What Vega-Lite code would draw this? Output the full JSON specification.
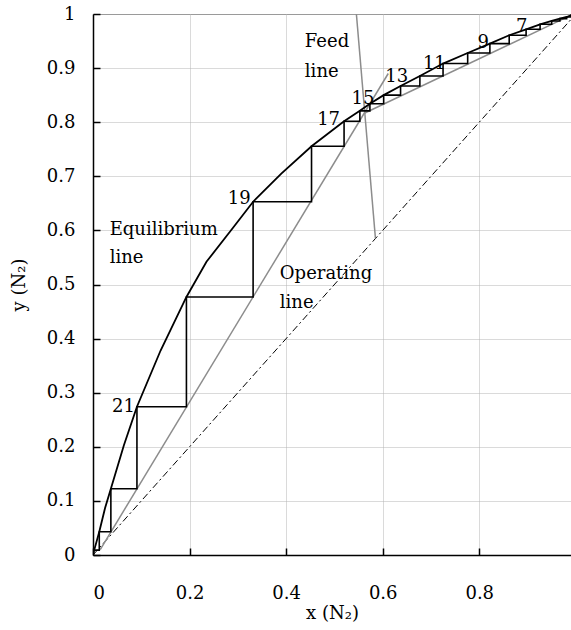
{
  "$schema": "https://vega.github.io/schema/vega-lite/v6.json",
  "width": 478,
  "height": 541,
  "autosize": {"type": "none"},
  "padding": {"left": 93, "top": 14, "right": 0, "bottom": 75},
  "background": "white",
  "config": {
    "font": "DejaVu Serif",
    "view": {"stroke": "#808080", "strokeWidth": 1},
    "axis": {
      "labelFont": "DejaVu Serif", "titleFont": "DejaVu Serif",
      "labelFontSize": 18, "titleFontSize": 18,
      "labelColor": "#000", "titleColor": "#000", "titleFontWeight": "normal",
      "domainColor": "#000", "domainWidth": 1.5,
      "tickColor": "#000", "tickWidth": 1.5, "tickSize": -7,
      "gridColor": "#b4b4b4", "gridDash": [1, 1], "gridWidth": 1
    }
  },
  "encoding": {
    "x": {"field": "x", "type": "quantitative",
      "scale": {"domain": [0, 0.99], "nice": false, "zero": false},
      "axis": {"title": "x (N₂)", "values": [0, 0.2, 0.4, 0.6, 0.8], "format": "~g", "labelPadding": 36, "titlePadding": 2}},
    "y": {"field": "y", "type": "quantitative",
      "scale": {"domain": [0, 1], "nice": false},
      "axis": {"title": "y (N₂)", "values": [0, 0.1, 0.2, 0.3, 0.4, 0.5, 0.6, 0.7, 0.8, 0.9, 1], "format": "~g", "labelPadding": 25, "titlePadding": 18}}
  },
  "layer": [
    {
      "data": {"values": [{"x": 0, "y": 0}, {"x": 1, "y": 1}]},
      "mark": {"type": "line", "color": "#000", "strokeWidth": 1, "strokeDash": [7, 3, 2, 3], "clip": true},
      "encoding": {}
    },
    {
      "data": {"values": [
        {"line": "stripping", "x": 0.015, "y": 0.010},
        {"line": "stripping", "x": 0.6115, "y": 0.890},
        {"line": "rectifying", "x": 0.562, "y": 0.8165},
        {"line": "rectifying", "x": 1.0, "y": 1.002},
        {"line": "feed", "x": 0.5455, "y": 1.0},
        {"line": "feed", "x": 0.585, "y": 0.585}
      ]},
      "mark": {"type": "line", "color": "#8c8c8c", "strokeWidth": 1.5, "clip": true},
      "encoding": {"detail": {"field": "line"}, "order": {"value": null}}
    },
    {
      "data": {"values": [
        {"x": 0, "y": 0}, {"x": 0.0025, "y": 0.009}, {"x": 0.013, "y": 0.043}, {"x": 0.025, "y": 0.087},
        {"x": 0.037, "y": 0.1225}, {"x": 0.064, "y": 0.203}, {"x": 0.091, "y": 0.274}, {"x": 0.14, "y": 0.378},
        {"x": 0.1935, "y": 0.477}, {"x": 0.235, "y": 0.542}, {"x": 0.29, "y": 0.605}, {"x": 0.3316, "y": 0.653},
        {"x": 0.39, "y": 0.705}, {"x": 0.4526, "y": 0.7556}, {"x": 0.52, "y": 0.8018}, {"x": 0.5527, "y": 0.821},
        {"x": 0.5735, "y": 0.834}, {"x": 0.602, "y": 0.85}, {"x": 0.637, "y": 0.867}, {"x": 0.677, "y": 0.8855},
        {"x": 0.725, "y": 0.9084}, {"x": 0.776, "y": 0.928}, {"x": 0.822, "y": 0.9453}, {"x": 0.862, "y": 0.9607},
        {"x": 0.897, "y": 0.9717}, {"x": 0.926, "y": 0.981}, {"x": 0.95, "y": 0.9871}, {"x": 0.967, "y": 0.9915},
        {"x": 0.981, "y": 0.9945}, {"x": 0.99, "y": 0.9975}, {"x": 1, "y": 1}
      ]},
      "mark": {"type": "line", "color": "#000", "strokeWidth": 1.8, "clip": true},
      "encoding": {"order": {"value": null}}
    },
    {
      "data": {"values": [
        {"x": 0.999, "y": 0.999}, {"x": 0.996, "y": 0.999}, {"x": 0.996, "y": 0.9975},
        {"x": 0.990, "y": 0.9975}, {"x": 0.990, "y": 0.9945},
        {"x": 0.981, "y": 0.9945}, {"x": 0.981, "y": 0.9915},
        {"x": 0.967, "y": 0.9915}, {"x": 0.967, "y": 0.9871},
        {"x": 0.950, "y": 0.9871}, {"x": 0.950, "y": 0.981},
        {"x": 0.926, "y": 0.981}, {"x": 0.926, "y": 0.9717},
        {"x": 0.897, "y": 0.9717}, {"x": 0.897, "y": 0.9607},
        {"x": 0.862, "y": 0.9607}, {"x": 0.862, "y": 0.9453},
        {"x": 0.822, "y": 0.9453}, {"x": 0.822, "y": 0.928},
        {"x": 0.776, "y": 0.928}, {"x": 0.776, "y": 0.9084},
        {"x": 0.725, "y": 0.9084}, {"x": 0.725, "y": 0.8855},
        {"x": 0.677, "y": 0.8855}, {"x": 0.677, "y": 0.867},
        {"x": 0.637, "y": 0.867}, {"x": 0.637, "y": 0.850},
        {"x": 0.602, "y": 0.850}, {"x": 0.602, "y": 0.834},
        {"x": 0.5735, "y": 0.834}, {"x": 0.5735, "y": 0.821},
        {"x": 0.5527, "y": 0.821}, {"x": 0.5527, "y": 0.8018},
        {"x": 0.520, "y": 0.8018}, {"x": 0.520, "y": 0.7556},
        {"x": 0.4526, "y": 0.7556}, {"x": 0.4526, "y": 0.653},
        {"x": 0.3316, "y": 0.653}, {"x": 0.3316, "y": 0.477},
        {"x": 0.1935, "y": 0.477}, {"x": 0.1935, "y": 0.274},
        {"x": 0.091, "y": 0.274}, {"x": 0.091, "y": 0.1225},
        {"x": 0.037, "y": 0.1225}, {"x": 0.037, "y": 0.043},
        {"x": 0.013, "y": 0.043}, {"x": 0.013, "y": 0.009},
        {"x": 0.0025, "y": 0.009}
      ]},
      "mark": {"type": "line", "color": "#000", "strokeWidth": 1.6, "clip": true},
      "encoding": {"order": {"value": null}}
    },
    {
      "data": {"values": [
        {"t": "7", "x": 0.888, "y": 0.967},
        {"t": "9", "x": 0.808, "y": 0.938},
        {"t": "11", "x": 0.707, "y": 0.899},
        {"t": "13", "x": 0.629, "y": 0.874},
        {"t": "15", "x": 0.559, "y": 0.833},
        {"t": "17", "x": 0.488, "y": 0.794},
        {"t": "19", "x": 0.303, "y": 0.648},
        {"t": "21", "x": 0.063, "y": 0.265}
      ]},
      "mark": {"type": "text", "align": "center", "baseline": "alphabetic", "fontSize": 18, "font": "DejaVu Serif", "color": "#000"},
      "encoding": {"text": {"field": "t"}}
    },
    {
      "data": {"values": [
        {"t": "Equilibrium", "x": 0.0346, "y": 0.591},
        {"t": "line", "x": 0.0346, "y": 0.539},
        {"t": "Operating", "x": 0.387, "y": 0.511},
        {"t": "line", "x": 0.387, "y": 0.456},
        {"t": "Feed", "x": 0.4388, "y": 0.939},
        {"t": "line", "x": 0.4388, "y": 0.884}
      ]},
      "mark": {"type": "text", "align": "left", "baseline": "alphabetic", "fontSize": 18, "font": "DejaVu Serif", "color": "#000"},
      "encoding": {"text": {"field": "t"}}
    }
  ]
}
